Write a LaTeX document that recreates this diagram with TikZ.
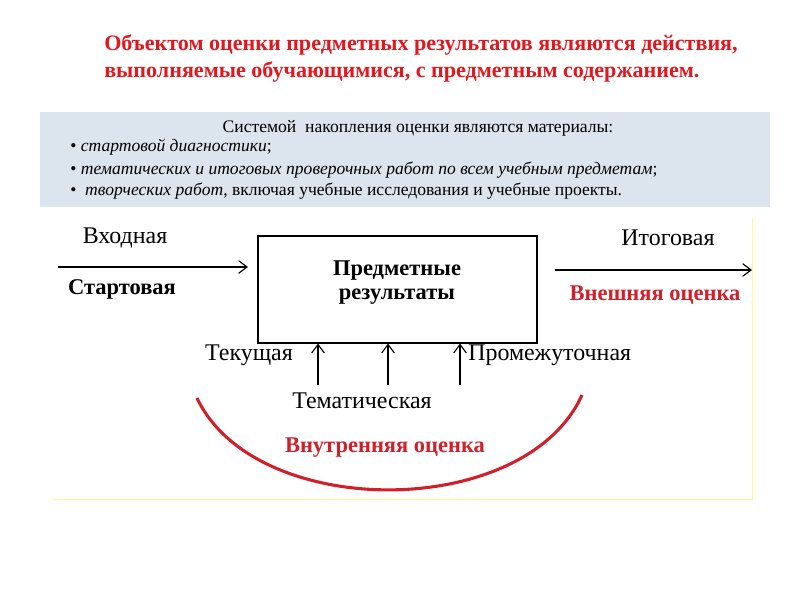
\documentclass[tikz,border=0pt]{standalone}
\usepackage{fontspec}
\setmainfont{Liberation Serif}
\usetikzlibrary{arrows.meta}
\definecolor{titlered}{RGB}{228,22,30}
\definecolor{markred}{RGB}{208,32,44}
\definecolor{panelblue}{RGB}{220,228,238}
\definecolor{frameyel}{RGB}{255,246,150}
\tikzset{
  lbl/.style={inner sep=0pt, font=\fontsize{17}{19}\selectfont},
  blbl/.style={inner sep=0pt, font=\fontsize{16}{19}\selectfont\bfseries},
  rlbl/.style={blbl, text=markred},
  ptxt/.style={inner sep=0pt, anchor=west, font=\fontsize{12.5}{15}\selectfont},
  ttl/.style={inner sep=0pt, anchor=west, text=titlered, font=\fontsize{15.7}{19}\selectfont\bfseries},
  arr/.style={thick, -{Straight Barb[length=6pt,width=9pt]}}
}
\begin{document}
\begin{tikzpicture}[x=0.025cm,y=-0.025cm]
\useasboundingbox (0,0) rectangle (800,600);
% title
\node[ttl] (title1) at (104,45) {Объектом оценки предметных результатов являются действия,};
\node[ttl] (title2) at (104,72) {выполняемые обучающимися, с предметным содержанием.};
% panel
\fill[panelblue] (40,112) rectangle (770,207);
\node[ptxt, anchor=center] (phead) at (418,128) {Системой \ накопления оценки являются материалы:};
\node[ptxt] (pitem1) at (70,147) {• \textit{стартовой диагностики};};
\node[ptxt] (pitem2) at (70,170) {• \textit{тематических и итоговых проверочных работ по всем учебным предметам};};
\node[ptxt] (pitem3) at (70,191) {• \ \textit{творческих работ}, включая учебные исследования и учебные проекты.};
% frame
\draw[frameyel] (53,499) -- (752,499) -- (752,218);
% main box
\node[draw, thick, minimum width=6.975cm, minimum height=2.675cm, inner sep=0pt] (res) at (397.5,289.5) {};
\node[blbl] (res1) at (397,271) {Предметные};
\node[blbl] (res2) at (397,297) {результаты};
% left and right
\coordinate (inA) at (58,267);
\coordinate (inB) at (248,267);
\coordinate (outA) at (555,270);
\coordinate (outB) at (752,270);
\draw[arr] (inA) -- (inB);
\draw[arr] (outA) -- (outB);
\node[lbl] (vhod) at (125,238) {Входная};
\node[blbl] (start) at (122,289) {Стартовая};
\node[lbl] (itog) at (668,238) {Итоговая};
\node[rlbl] (vnesh) at (655,295) {Внешняя оценка};
% up arrows
\foreach \x/\n in {318/a,388/b,460/c}{
  \coordinate (up\n) at (\x,385);
  \draw[arr] (up\n) -- (res.south -| up\n);
}
\node[lbl] (tek) at (249,355) {Текущая};
\node[lbl, anchor=west] (prom) at (468,355) {Промежуточная};
\node[lbl] (tem) at (362,401) {Тематическая};
% arc
\coordinate (arcL) at (197,398);
\coordinate (arcR) at (582,395);
\draw[markred, line width=2.2pt] (arcL) .. controls (255,521) and (525,521) .. (arcR);
\node[rlbl] (vnutr) at (385,448) {Внутренняя оценка};
\end{tikzpicture}
\end{document}
